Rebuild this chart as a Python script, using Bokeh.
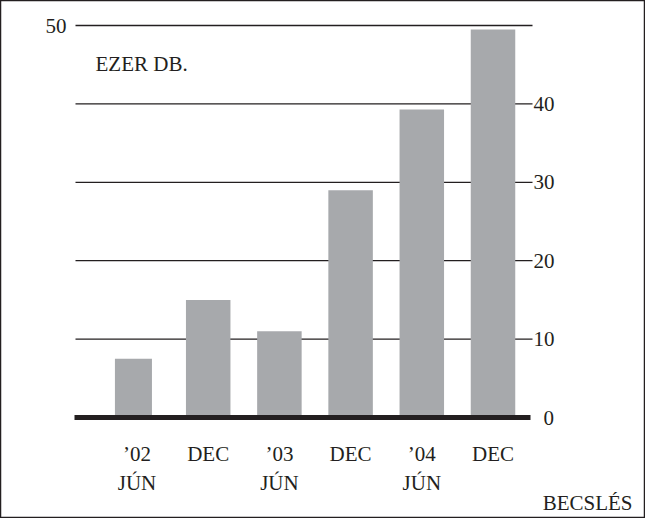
from bokeh.plotting import figure
from bokeh.models import ColumnDataSource, Range1d
from bokeh.core.properties import value
from bokeh.embed import file_html
from bokeh.resources import INLINE

# ---- data ----
top_labels = ["\u201902", "DEC", "\u201903", "DEC", "\u201904", "DEC"]
bottom_labels = ["J\u00daN", "", "J\u00daN", "", "J\u00daN", ""]
values = [7.5, 15, 11, 29, 39.3, 49.5]
grid_values = [10, 20, 30, 40, 50]
right_tick_labels = ["10", "20", "30", "40"]
right_tick_values = [10, 20, 30, 40]
left_tick_label = "50"
left_tick_value = 50
zero_label = "0"
unit_label = "EZER DB."
note_label = "BECSL\u00c9S"

# ---- layout ----
W, H = 645, 518
PX_X = 71.2     # px per category step
PX_Y = 7.84     # px per unit
X0 = -(144.5 - 8) / PX_X
Y1 = (425 - 8) / PX_Y


def dx(px):  # page px -> data x
    return X0 + (px - 8) / PX_X


def dy(py):  # page py -> data y
    return Y1 - (py - 8) / PX_Y


FONT = value("Liberation Serif")
FS = "21px"
INK = "#231f20"
BAR = "#a7a9ac"

p = figure(width=W, height=H, output_backend="svg", toolbar_location=None,
           x_axis_location=None, y_axis_location=None, min_border=0,
           x_range=Range1d(X0, X0 + W / PX_X), y_range=Range1d(Y1 - H / PX_Y, Y1))
p.grid.grid_line_color = None
p.outline_line_color = INK
p.outline_line_width = 1.5
p.background_fill_color = "white"

# grid lines
p.segment(x0=[dx(83)] * len(grid_values), x1=[dx(540)] * len(grid_values),
          y0=grid_values, y1=grid_values, line_color=INK, line_width=1.3)

# bars
idx = list(range(len(values)))
widths = [0.52] + [0.625] * (len(values) - 1)
xs = [i - (0.05 if i == 0 else 0) for i in idx]
src = ColumnDataSource(dict(x=xs, top=values, w=widths))
p.vbar(x="x", top="top", bottom=0, width="w", source=src, fill_color=BAR, line_color=None)

# zero line
p.segment(x0=[dx(82)], x1=[dx(538)], y0=[0], y1=[0], line_color=INK, line_width=5)

# right tick labels
p.text(x=[dx(541)] * len(right_tick_values), y=right_tick_values, text=right_tick_labels,
       text_font=FONT, text_font_size=FS, text_color=INK,
       text_align="left", text_baseline="alphabetic")
p.text(x=[dx(551)], y=[0], text=[zero_label], text_font=FONT, text_font_size=FS,
       text_color=INK, text_align="left", text_baseline="middle")
p.text(x=[dx(74)], y=[left_tick_value], text=[left_tick_label], text_font=FONT,
       text_font_size=FS, text_color=INK, text_align="right", text_baseline="middle")

# category labels
p.text(x=idx, y=[dy(461)] * len(idx), text=top_labels, text_font=FONT, text_font_size=FS,
       text_color=INK, text_align="center", text_baseline="middle")
p.text(x=idx, y=[dy(490)] * len(idx), text=bottom_labels, text_font=FONT, text_font_size=FS,
       text_color=INK, text_align="center", text_baseline="middle")

# annotations
p.text(x=[dx(103)], y=[dy(71)], text=[unit_label], text_font=FONT, text_font_size=FS,
       text_color=INK, text_align="left", text_baseline="middle")
p.text(x=[dx(640)], y=[dy(510)], text=[note_label], text_font=FONT, text_font_size=FS,
       text_color=INK, text_align="right", text_baseline="middle")

open("out.html", "w").write(file_html(p, INLINE))
